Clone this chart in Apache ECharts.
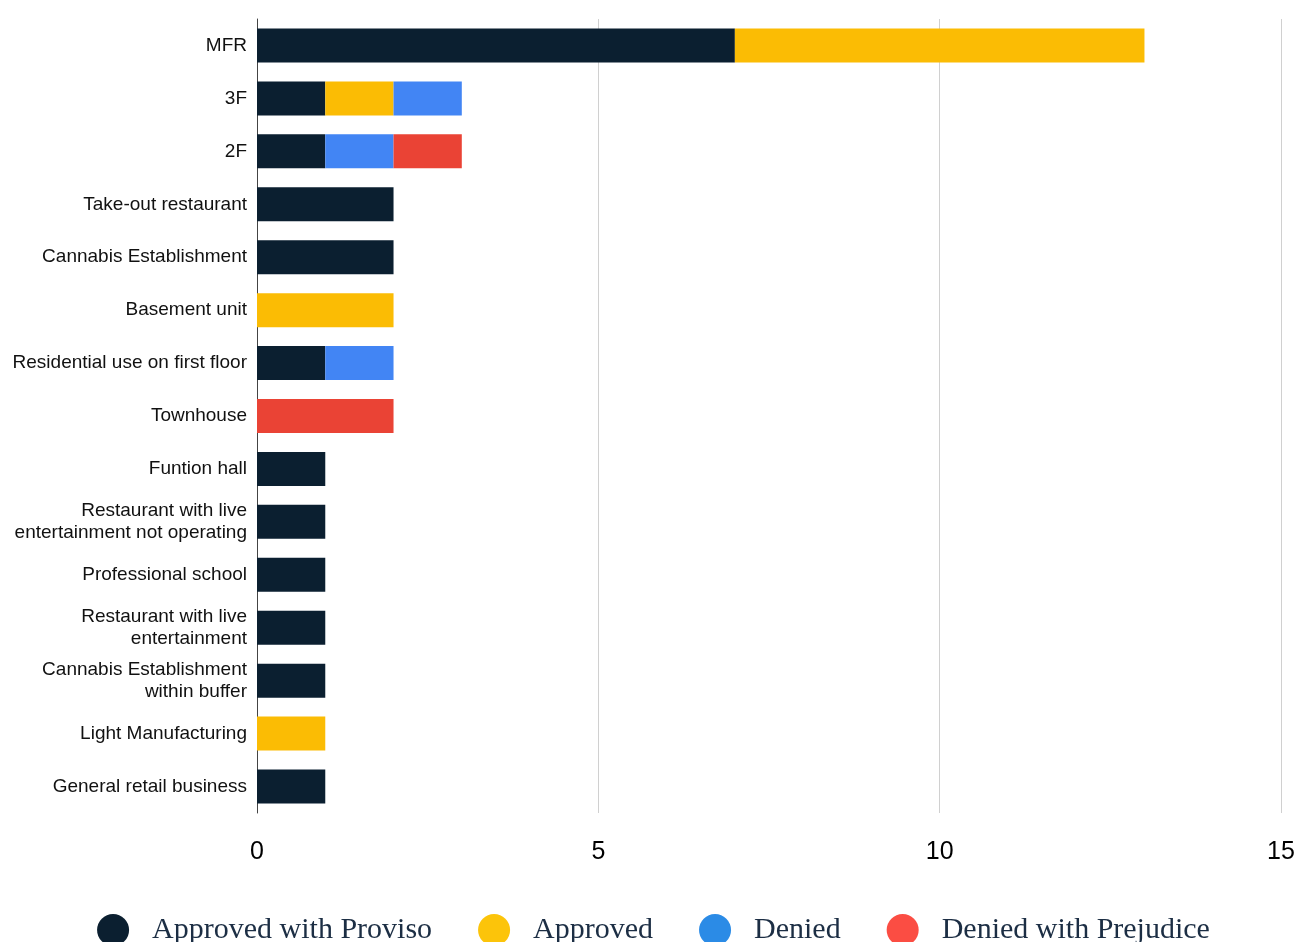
<!DOCTYPE html>
<html>
<head>
<meta charset="utf-8">
<script src="https://cdn.jsdelivr.net/npm/echarts@6/dist/echarts.min.js"></script>
<style>
  html, body { margin: 0; padding: 0; background: #fff; }
  #chart { width: 1307px; height: 942px; }
</style>
</head>
<body>
<div id="chart"></div>
<script>
// categories, top to bottom
var categories = [
  'MFR', '3F', '2F', 'Take-out restaurant', 'Cannabis Establishment',
  'Basement unit', 'Residential use on first floor', 'Townhouse', 'Funtion hall',
  'Restaurant with live\nentertainment not operating', 'Professional school',
  'Restaurant with live\nentertainment', 'Cannabis Establishment\nwithin buffer',
  'Light Manufacturing', 'General retail business'
]
var approvedWithProviso = [7, 1, 1, 2, 2, 0, 1, 0, 1, 1, 1, 1, 1, 0, 1]
var approved            = [6, 1, 0, 0, 0, 2, 0, 0, 0, 0, 0, 0, 0, 1, 0]
var denied              = [0, 1, 1, 0, 0, 0, 1, 0, 0, 0, 0, 0, 0, 0, 0]
var deniedWithPrejudice = [0, 0, 1, 0, 0, 0, 0, 2, 0, 0, 0, 0, 0, 0, 0]
var xTicks = [0, 5, 10, 15]

var chart = echarts.init(document.getElementById('chart'))

function bar (name, data, color) {
  return {
    name: name,
    type: 'bar',
    stack: 'total',
    barWidth: 34,
    data: data.map(function (v) { return v === 0 ? null : v }),
    itemStyle: { color: color }
  }
}

chart.setOption({
  backgroundColor: '#fff',
  animation: false,
  grid: {
    left: 257,
    right: 26,
    top: 19,
    height: 794
  },
  xAxis: {
    type: 'value',
    min: xTicks[0],
    max: xTicks[xTicks.length - 1],
    interval: 5,
    axisLine: { show: false },
    axisTick: { show: false },
    splitLine: {
      show: true,
      lineStyle: { color: '#d0d0d0', width: 1 }
    },
    axisLabel: {
      color: '#000',
      fontSize: 25,
      fontFamily: 'Liberation Sans',
      margin: 27,
      showMinLabel: true,
      showMaxLabel: true
    }
  },
  yAxis: {
    type: 'category',
    inverse: true,
    data: categories,
    axisLine: { show: true, lineStyle: { color: '#444', width: 1 } },
    axisTick: { show: false },
    axisLabel: {
      color: '#111',
      fontSize: 19,
      fontFamily: 'Liberation Sans',
      margin: 10,
      lineHeight: 22
    }
  },
  legend: {
    bottom: -9,
    left: 'center',
    icon: 'circle',
    itemWidth: 32,
    itemHeight: 32,
    itemGap: 46,
    textStyle: {
      color: '#1c2e44',
      fontSize: 30,
      fontFamily: 'Liberation Serif',
      padding: [0, 0, 0, 18]
    },
    data: [
      { name: 'Approved with Proviso', itemStyle: { color: '#0b1f30' } },
      { name: 'Approved', itemStyle: { color: '#fcc40a' } },
      { name: 'Denied', itemStyle: { color: '#2b8be6' } },
      { name: 'Denied with Prejudice', itemStyle: { color: '#fb4d43' } }
    ]
  },
  series: [
    bar('Approved with Proviso', approvedWithProviso, '#0b1f30'),
    bar('Approved', approved, '#fbbc04'),
    bar('Denied', denied, '#4285f4'),
    bar('Denied with Prejudice', deniedWithPrejudice, '#ea4335')
  ]
})
</script>
</body>
</html>
